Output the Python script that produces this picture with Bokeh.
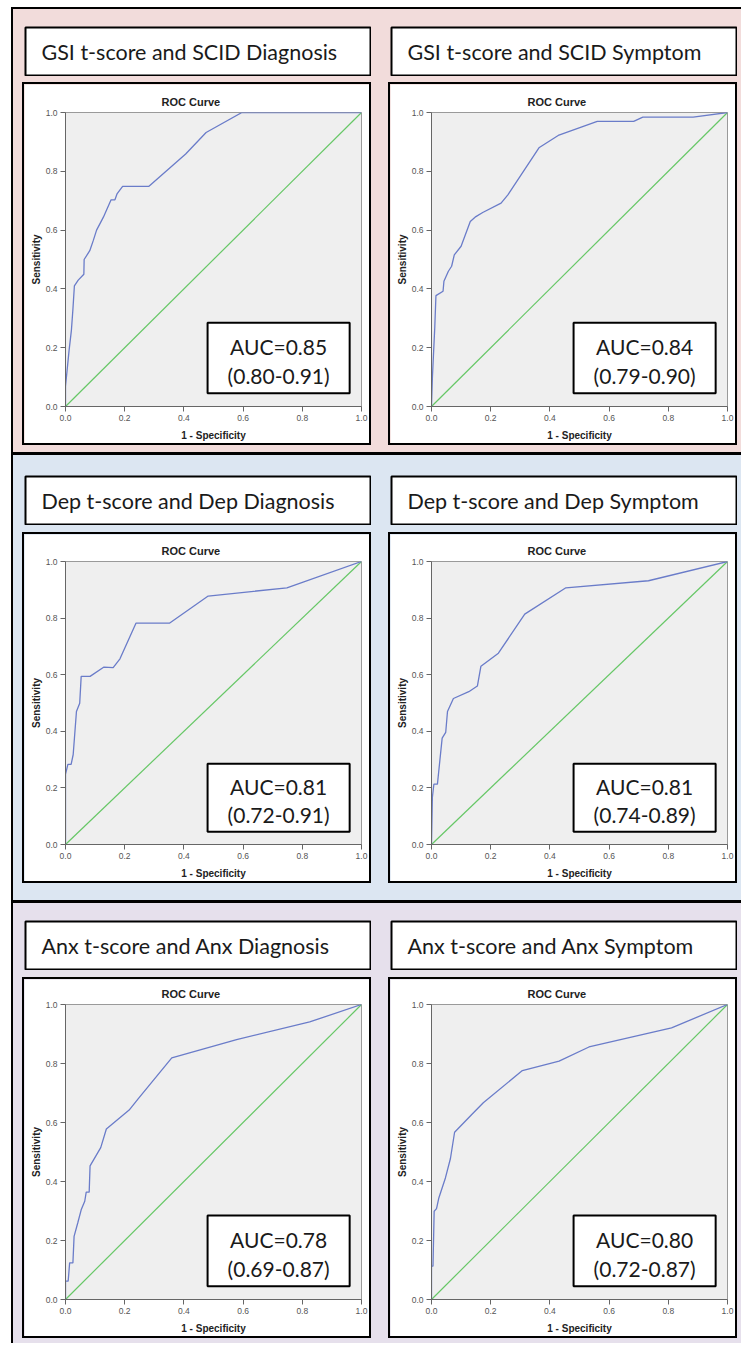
from bokeh.plotting import figure
from bokeh.layouts import column, row
from bokeh.models import Spacer, Label, BoxAnnotation, FixedTicker, Range1d
from bokeh.embed import file_html
from bokeh.resources import INLINE

# ---------------- data ----------------
panel_titles = [
    "GSI t-score and SCID Diagnosis", "GSI t-score and SCID Symptom",
    "Dep t-score and Dep Diagnosis", "Dep t-score and Dep Symptom",
    "Anx t-score and Anx Diagnosis", "Anx t-score and Anx Symptom",
]
auc_labels = ["AUC=0.85", "AUC=0.84", "AUC=0.81", "AUC=0.81", "AUC=0.78", "AUC=0.80"]
ci_labels = ["(0.80-0.91)", "(0.79-0.90)", "(0.72-0.91)", "(0.74-0.89)", "(0.69-0.87)", "(0.72-0.87)"]

fpr_gsi_dx = [0, 0, 0.012, 0.02, 0.025, 0.03, 0.043, 0.062, 0.063, 0.082, 0.094, 0.105, 0.128,
              0.154, 0.167, 0.174, 0.193, 0.282, 0.406, 0.475, 0.596, 1.0]
tpr_gsi_dx = [0, 0.068, 0.19, 0.26, 0.33, 0.41, 0.43, 0.45, 0.50, 0.53, 0.565, 0.60, 0.644,
              0.703, 0.703, 0.723, 0.749, 0.749, 0.859, 0.932, 1.0, 1.0]

fpr_gsi_sx = [0, 0.003, 0.011, 0.015, 0.039, 0.042, 0.057, 0.068, 0.077, 0.10, 0.131, 0.15,
              0.173, 0.235, 0.258, 0.363, 0.428, 0.56, 0.683, 0.714, 0.884, 1.0]
tpr_gsi_sx = [0, 0.098, 0.268, 0.377, 0.392, 0.426, 0.46, 0.477, 0.516, 0.545, 0.629, 0.646,
              0.66, 0.692, 0.72, 0.88, 0.922, 0.97, 0.97, 0.984, 0.984, 1.0]

fpr_dep_dx = [0, 0, 0.008, 0.019, 0.026, 0.037, 0.048, 0.053, 0.083, 0.13, 0.161, 0.184,
              0.238, 0.351, 0.482, 0.748, 1.0]
tpr_dep_dx = [0, 0.248, 0.283, 0.283, 0.318, 0.47, 0.499, 0.594, 0.594, 0.627, 0.625, 0.656,
              0.782, 0.782, 0.878, 0.907, 1.0]

fpr_dep_sx = [0, 0.003, 0.008, 0.02, 0.036, 0.048, 0.054, 0.074, 0.126, 0.155, 0.167, 0.226,
              0.315, 0.454, 0.733, 1.0]
tpr_dep_sx = [0, 0.167, 0.213, 0.213, 0.376, 0.396, 0.47, 0.516, 0.54, 0.56, 0.63, 0.676,
              0.814, 0.907, 0.932, 1.0]

fpr_anx_dx = [0, 0, 0.009, 0.014, 0.025, 0.029, 0.042, 0.053, 0.065, 0.07, 0.08, 0.083, 0.119,
              0.138, 0.215, 0.246, 0.359, 0.578, 0.825, 1.0]
tpr_anx_dx = [0, 0.062, 0.062, 0.124, 0.124, 0.214, 0.262, 0.304, 0.333, 0.364, 0.364, 0.453,
              0.515, 0.578, 0.642, 0.681, 0.819, 0.881, 0.941, 1.0]

fpr_anx_sx = [0, 0, 0.005, 0.009, 0.017, 0.025, 0.047, 0.064, 0.078, 0.136, 0.175, 0.307,
              0.431, 0.532, 0.811, 1.0]
tpr_anx_sx = [0, 0.113, 0.113, 0.299, 0.308, 0.345, 0.412, 0.478, 0.567, 0.627, 0.667, 0.776,
              0.808, 0.856, 0.921, 1.0]

reference_line = [0, 1]
tick_values = [0, 0.2, 0.4, 0.6, 0.8, 1.0]
tick_labels = ["0.0", "0.2", "0.4", "0.6", "0.8", "1.0"]

# ---------------- style ----------------
SECTION_BG = ["#f2dcdb", "#dce6f2", "#e6e0ec"]
BLUE = "#6a7cc9"
GREEN = "#66c766"
PLOT_BG = "#efefef"
AX = "Liberation Sans"
TXT = "Lato"
CELL_W = 349
GAP_MID = 17
PAD_L = 9
PAD_R = 4
CONTENT_W = PAD_L + CELL_W + GAP_MID + CELL_W + PAD_R
TITLE_H = 50
TOP_GAP = 7
LEFT_GAP = 11
# per section: pad_top, gap, roc_h, pad_bottom, frame_top, frame_bottom
SECTIONS = [(17, 6, 363, 7, 28, 37), (20, 7, 351, 17, 27, 35), (17, 7, 361, 5, 25, 36)]


def blk(w, h):
    return Spacer(width=w, height=h, styles={"background-color": "black"})


def gap(w, h):
    return Spacer(width=w, height=h)


def title_fig(text, bg):
    fw = CELL_W - 4
    p = figure(width=CELL_W, height=TITLE_H, x_range=Range1d(0, fw), y_range=Range1d(0, 1),
               x_axis_type=None, y_axis_type=None, output_backend="svg", toolbar_location=None,
               min_border_left=3, min_border_right=1, min_border_top=1, min_border_bottom=1)
    p.grid.visible = False
    p.background_fill_color = "white"
    p.border_fill_color = bg
    p.outline_line_color = "black"
    p.outline_line_width = 2
    p.add_layout(Label(x=16, y=0.5, text=text, text_baseline="middle", text_align="left",
                       text_font=TXT, text_font_size="21.5px", text_color="#1a1a1a"))
    return p


def roc_fig(fpr, tpr, auc, ci, h, ftop, fbot):
    p = figure(width=CELL_W - 4, height=h - 4, x_range=Range1d(0, 1), y_range=Range1d(0, 1),
               output_backend="svg", toolbar_location=None, title="ROC Curve",
               min_border_left=41, min_border_right=8, min_border_top=ftop, min_border_bottom=fbot)
    p.grid.visible = False
    p.border_fill_color = "white"
    p.background_fill_color = PLOT_BG
    p.outline_line_color = "#9a9a9a"
    p.outline_line_width = 1
    p.title.text_font = AX
    p.title.text_font_size = "11px"
    p.title.text_font_style = "bold"
    p.title.text_color = "#222222"
    p.title.align = "left"
    p.title.offset = 96
    p.title.standoff = 9
    for ax in (p.xaxis[0], p.yaxis[0]):
        ax.ticker = FixedTicker(ticks=tick_values)
        ax.major_label_overrides = dict(zip(tick_values, tick_labels))
        ax.major_label_text_font = AX
        ax.major_label_text_font_size = "8.5px"
        ax.major_label_text_color = "#555555"
        ax.major_label_standoff = 3
        ax.axis_line_color = "#666666"
        ax.major_tick_line_color = "#666666"
        ax.major_tick_out = 5
        ax.major_tick_in = 0
        ax.minor_tick_line_color = None
        ax.axis_label_text_font = AX
        ax.axis_label_text_font_size = "10px"
        ax.axis_label_text_font_style = "bold"
        ax.axis_label_text_color = "#222222"
    p.xaxis.axis_label_standoff = 6
    p.yaxis.axis_label_standoff = 1
    p.xaxis.axis_label = "1 - Specificity"
    p.yaxis.axis_label = "Sensitivity"
    p.line(reference_line, reference_line, line_color=GREEN, line_width=1.2)
    p.line(fpr, tpr, line_color=BLUE, line_width=1.3)
    p.add_layout(BoxAnnotation(left=0.48, right=0.96, bottom=0.045, top=0.285,
                               fill_color="white", fill_alpha=1.0,
                               line_color="black", line_width=2, line_alpha=1.0))
    p.add_layout(Label(x=0.72, y=0.205, text=auc, text_align="center", text_baseline="middle",
                       text_font=TXT, text_font_size="21px", text_color="#1a1a1a"))
    p.add_layout(Label(x=0.72, y=0.105, text=ci, text_align="center", text_baseline="middle",
                       text_font=TXT, text_font_size="21px", text_color="#1a1a1a"))
    return p


def roc_box(fig, h):
    return column(blk(CELL_W, 2), row(blk(2, h - 4), fig, blk(2, h - 4)), blk(CELL_W, 2))


curves = [(fpr_gsi_dx, tpr_gsi_dx), (fpr_gsi_sx, tpr_gsi_sx),
          (fpr_dep_dx, tpr_dep_dx), (fpr_dep_sx, tpr_dep_sx),
          (fpr_anx_dx, tpr_anx_dx), (fpr_anx_sx, tpr_anx_sx)]

sections = []
for s, (pt, g, rh, pb, ft, fb) in enumerate(SECTIONS):
    bg = SECTION_BG[s]
    cells = []
    for k in range(2):
        i = 2 * s + k
        f = roc_fig(curves[i][0], curves[i][1], auc_labels[i], ci_labels[i], rh, ft, fb)
        cells.append(column(title_fig(panel_titles[i], bg), gap(CELL_W, g), roc_box(f, rh)))
    ch = TITLE_H + g + rh
    sec = column(gap(CONTENT_W, pt),
                 row(gap(PAD_L, ch), cells[0], gap(GAP_MID, ch), cells[1], gap(PAD_R, ch)),
                 gap(CONTENT_W, pb),
                 styles={"background-color": bg})
    sections.append(sec)

inner = column(blk(CONTENT_W, 2), sections[0], blk(CONTENT_W, 3), sections[1],
               blk(CONTENT_W, 3), sections[2])
total_h = 2 + sum(pt + TITLE_H + g + rh + pb for (pt, g, rh, pb, ft, fb) in SECTIONS) + 6
layout = column(gap(LEFT_GAP + 2 + CONTENT_W, TOP_GAP),
                row(gap(LEFT_GAP, total_h), blk(2, total_h), inner))

open("out.html", "w").write(file_html(layout, INLINE, title="ROC curves"))
